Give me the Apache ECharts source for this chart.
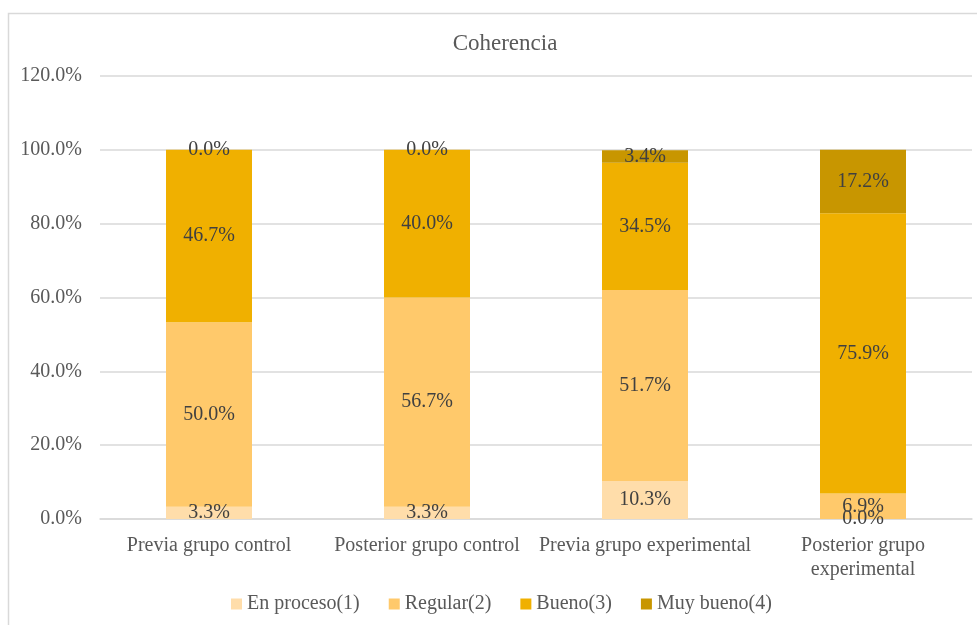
<!DOCTYPE html>
<html>
<head>
<meta charset="utf-8">
<script src="https://cdn.jsdelivr.net/npm/echarts@6/dist/echarts.min.js"></script>
<style>
  html, body { margin: 0; padding: 0; background: #fff; }
  #chart { width: 977px; height: 625px; }
</style>
</head>
<body>
<div id="chart"></div>
<script>
var categories = ['Previa grupo control', 'Posterior grupo control', 'Previa grupo experimental', 'Posterior grupo\nexperimental'];
var enProceso = [3.3, 3.3, 10.3, 0.0];
var regular = [50.0, 56.7, 51.7, 6.9];
var bueno = [46.7, 40.0, 34.5, 75.9];
var muyBueno = [0.0, 0.0, 3.4, 17.2];

var seriesNames = ['En proceso(1)', 'Regular(2)', 'Bueno(3)', 'Muy bueno(4)'];
var colors = ['#FFDDAA', '#FFC96B', '#F0B000', '#C89600'];

var font = '"Liberation Serif", "Times New Roman", serif';

var chart = echarts.init(document.getElementById('chart'));

function makeSeries(name, data, color) {
    return {
        name: name,
        type: 'bar',
        stack: 'total',
        barWidth: 86,
        data: data,
        itemStyle: { color: color },
        label: {
            show: true,
            position: 'inside',
            formatter: function (p) { return p.value.toFixed(1) + '%'; },
            color: '#404040',
            fontFamily: font,
            fontSize: 20
        }
    };
}

var option = {
    animation: false,
    textStyle: { fontFamily: font },
    graphic: [{
        type: 'rect',
        shape: { x: 8.5, y: 13.5, width: 980, height: 640 },
        style: { fill: null, stroke: '#d9d9d9', lineWidth: 1.5 }
    }],
    title: {
        text: 'Coherencia',
        left: 500,
        textAlign: 'center',
        top: 27,
        textStyle: { fontFamily: font, fontSize: 23, fontWeight: 'normal', color: '#595959' }
    },
    legend: {
        bottom: 6,
        left: 226,
        itemWidth: 11,
        itemHeight: 11,
        itemGap: 29,
        icon: 'rect',
        textStyle: { fontFamily: font, fontSize: 20, color: '#595959' },
        data: seriesNames
    },
    grid: { left: 100, right: 5, top: 76, bottom: 106 },
    xAxis: {
        type: 'category',
        data: categories,
        axisTick: { show: false },
        axisLine: { lineStyle: { color: '#d9d9d9', width: 1.5 } },
        axisLabel: { color: '#595959', fontFamily: font, fontSize: 20, margin: 15, interval: 0, lineHeight: 24 }
    },
    yAxis: {
        type: 'value',
        min: 0,
        max: 120,
        interval: 20,
        axisLine: { show: false },
        axisTick: { show: false },
        splitLine: { lineStyle: { color: '#d9d9d9', width: 1.5 } },
        axisLabel: {
            color: '#595959',
            fontFamily: font,
            fontSize: 20,
            margin: 18,
            formatter: function (v) { return v.toFixed(1) + '%'; }
        }
    },
    series: [
        makeSeries(seriesNames[0], enProceso, colors[0]),
        makeSeries(seriesNames[1], regular, colors[1]),
        makeSeries(seriesNames[2], bueno, colors[2]),
        makeSeries(seriesNames[3], muyBueno, colors[3])
    ]
};

chart.setOption(option);
</script>
</body>
</html>
